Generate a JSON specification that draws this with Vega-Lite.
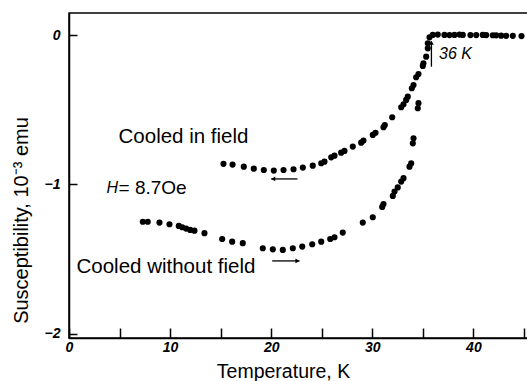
{
  "$schema": "https://vega.github.io/schema/vega-lite/v6.json",
  "autosize": "none",
  "width": 462,
  "height": 325,
  "padding": {"left": 69, "top": 13, "right": 0, "bottom": 43},
  "background": "white",
  "config": {
    "view": {"stroke": "black", "strokeWidth": 1.5},
    "font": "Liberation Sans",
    "axis": {"grid": false, "domainColor": "black", "domainWidth": 1.5, "tickColor": "black", "tickWidth": 1.5, "labelColor": "black", "titleColor": "black", "labelFont": "Liberation Sans", "titleFont": "Liberation Sans", "titleFontWeight": "normal"}
  },
  "layer": [
    {
      "data": {"values": [
        {"T": 15.28, "chi": -0.862, "curve": "field"},
        {"T": 16.18, "chi": -0.867, "curve": "field"},
        {"T": 17.29, "chi": -0.881, "curve": "field"},
        {"T": 18.28, "chi": -0.894, "curve": "field"},
        {"T": 19.27, "chi": -0.903, "curve": "field"},
        {"T": 20.26, "chi": -0.907, "curve": "field"},
        {"T": 21.22, "chi": -0.903, "curve": "field"},
        {"T": 22.21, "chi": -0.898, "curve": "field"},
        {"T": 23.13, "chi": -0.887, "curve": "field"},
        {"T": 24.11, "chi": -0.874, "curve": "field"},
        {"T": 24.95, "chi": -0.858, "curve": "field"},
        {"T": 25.27, "chi": -0.847, "curve": "field"},
        {"T": 25.94, "chi": -0.818, "curve": "field"},
        {"T": 26.26, "chi": -0.807, "curve": "field"},
        {"T": 26.92, "chi": -0.787, "curve": "field"},
        {"T": 27.25, "chi": -0.775, "curve": "field"},
        {"T": 28.07, "chi": -0.746, "curve": "field"},
        {"T": 28.9, "chi": -0.72, "curve": "field"},
        {"T": 29.13, "chi": -0.706, "curve": "field"},
        {"T": 30.05, "chi": -0.668, "curve": "field"},
        {"T": 30.32, "chi": -0.653, "curve": "field"},
        {"T": 31.11, "chi": -0.616, "curve": "field"},
        {"T": 31.24, "chi": -0.601, "curve": "field"},
        {"T": 31.97, "chi": -0.549, "curve": "field"},
        {"T": 32.86, "chi": -0.482, "curve": "field"},
        {"T": 33.09, "chi": -0.462, "curve": "field"},
        {"T": 33.35, "chi": -0.433, "curve": "field"},
        {"T": 33.51, "chi": -0.411, "curve": "field"},
        {"T": 33.91, "chi": -0.355, "curve": "field"},
        {"T": 34.08, "chi": -0.333, "curve": "field"},
        {"T": 34.34, "chi": -0.281, "curve": "field"},
        {"T": 34.57, "chi": -0.259, "curve": "field"},
        {"T": 35.0, "chi": -0.205, "curve": "field"},
        {"T": 35.06, "chi": -0.187, "curve": "field"},
        {"T": 35.33, "chi": -0.143, "curve": "field"},
        {"T": 35.49, "chi": -0.087, "curve": "field"},
        {"T": 35.49, "chi": -0.053, "curve": "field"},
        {"T": 35.66, "chi": -0.013, "curve": "field"},
        {"T": 35.98, "chi": 0.003, "curve": "field"},
        {"T": 36.48, "chi": 0.005, "curve": "field"},
        {"T": 37.14, "chi": 0.003, "curve": "field"},
        {"T": 37.64, "chi": 0.002, "curve": "field"},
        {"T": 38.13, "chi": 0.003, "curve": "field"},
        {"T": 38.63, "chi": 0.005, "curve": "field"},
        {"T": 38.95, "chi": 0.003, "curve": "field"},
        {"T": 39.71, "chi": 0.002, "curve": "field"},
        {"T": 40.28, "chi": 0.002, "curve": "field"},
        {"T": 40.93, "chi": 0.003, "curve": "field"},
        {"T": 41.27, "chi": 0.002, "curve": "field"},
        {"T": 41.92, "chi": 0.001, "curve": "field"},
        {"T": 42.26, "chi": 0.0, "curve": "field"},
        {"T": 42.75, "chi": -0.002, "curve": "field"},
        {"T": 43.24, "chi": -0.003, "curve": "field"},
        {"T": 43.9, "chi": -0.003, "curve": "field"},
        {"T": 44.76, "chi": -0.005, "curve": "field"},
        {"T": 7.3, "chi": -1.25, "curve": "zfc"},
        {"T": 7.79, "chi": -1.25, "curve": "zfc"},
        {"T": 8.95, "chi": -1.256, "curve": "zfc"},
        {"T": 9.94, "chi": -1.267, "curve": "zfc"},
        {"T": 10.86, "chi": -1.278, "curve": "zfc"},
        {"T": 11.2, "chi": -1.287, "curve": "zfc"},
        {"T": 11.59, "chi": -1.296, "curve": "zfc"},
        {"T": 11.99, "chi": -1.305, "curve": "zfc"},
        {"T": 12.41, "chi": -1.31, "curve": "zfc"},
        {"T": 13.4, "chi": -1.327, "curve": "zfc"},
        {"T": 15.15, "chi": -1.366, "curve": "zfc"},
        {"T": 16.14, "chi": -1.384, "curve": "zfc"},
        {"T": 17.19, "chi": -1.394, "curve": "zfc"},
        {"T": 19.17, "chi": -1.428, "curve": "zfc"},
        {"T": 20.16, "chi": -1.435, "curve": "zfc"},
        {"T": 21.15, "chi": -1.439, "curve": "zfc"},
        {"T": 22.14, "chi": -1.428, "curve": "zfc"},
        {"T": 23.07, "chi": -1.417, "curve": "zfc"},
        {"T": 24.06, "chi": -1.401, "curve": "zfc"},
        {"T": 24.95, "chi": -1.384, "curve": "zfc"},
        {"T": 25.84, "chi": -1.366, "curve": "zfc"},
        {"T": 26.26, "chi": -1.354, "curve": "zfc"},
        {"T": 27.08, "chi": -1.323, "curve": "zfc"},
        {"T": 29.06, "chi": -1.256, "curve": "zfc"},
        {"T": 30.05, "chi": -1.22, "curve": "zfc"},
        {"T": 30.98, "chi": -1.151, "curve": "zfc"},
        {"T": 31.11, "chi": -1.131, "curve": "zfc"},
        {"T": 32.03, "chi": -1.077, "curve": "zfc"},
        {"T": 32.2, "chi": -1.048, "curve": "zfc"},
        {"T": 32.52, "chi": -1.02, "curve": "zfc"},
        {"T": 32.86, "chi": -0.981, "curve": "zfc"},
        {"T": 33.09, "chi": -0.958, "curve": "zfc"},
        {"T": 33.68, "chi": -0.881, "curve": "zfc"},
        {"T": 33.85, "chi": -0.858, "curve": "zfc"},
        {"T": 34.01, "chi": -0.724, "curve": "zfc"},
        {"T": 34.08, "chi": -0.69, "curve": "zfc"},
        {"T": 34.5, "chi": -0.489, "curve": "zfc"},
        {"T": 34.57, "chi": -0.455, "curve": "zfc"}
      ]},
      "mark": {"type": "point", "filled": true, "color": "black", "size": 38, "opacity": 1},
      "encoding": {
        "x": {"field": "T", "type": "quantitative", "scale": {"domain": [0, 45.7], "nice": false, "zero": false},
          "axis": {"values": [0, 5, 10, 15, 20, 25, 30, 35, 40, 45], "labelExpr": "datum.value % 10 == 0 ? datum.label : ''", "tickSize": -10, "labelPadding": 12, "labelFontSize": 14, "labelFontStyle": "italic", "labelFontWeight": "bold", "labelFlush": false, "title": "Temperature, K", "titleFontSize": 19.5, "titleX": 214, "titleY": 39, "titleAlign": "center", "titleBaseline": "alphabetic"}},
        "y": {"field": "chi", "type": "quantitative", "scale": {"domain": [-2.03, 0.15], "nice": false, "zero": false},
          "axis": {"values": [0, -1, -2], "format": "d", "tickSize": -8, "labelPadding": 17, "labelFontSize": 14, "labelFontStyle": "italic", "labelFontWeight": "bold", "labelFlush": false, "title": "Susceptibility, 10⁻³ emu", "titleFontSize": 20, "titleX": -42, "titleY": 207, "titleAlign": "center", "titleBaseline": "alphabetic"}}
      }
    },
    {
      "data": {"values": [
        {"label": "Cooled in field", "T": 4.9, "chi": -0.68},
        {"label": "Cooled without field", "T": 0.74, "chi": -1.553}
      ]},
      "mark": {"type": "text", "align": "left", "baseline": "middle", "fontSize": 20.5, "color": "black"},
      "encoding": {"x": {"field": "T", "type": "quantitative"}, "y": {"field": "chi", "type": "quantitative"}, "text": {"field": "label"}}
    },
    {
      "data": {"values": [
        {"label": "= 8.7Oe", "T": 4.9, "chi": -1.023}
      ]},
      "mark": {"type": "text", "align": "left", "baseline": "middle", "fontSize": 19, "color": "black"},
      "encoding": {"x": {"field": "T", "type": "quantitative"}, "y": {"field": "chi", "type": "quantitative"}, "text": {"field": "label"}}
    },
    {
      "data": {"values": [
        {"label": "H", "T": 3.7, "chi": -1.023},
        {"label": "36 K", "T": 36.6, "chi": -0.125}
      ]},
      "mark": {"type": "text", "align": "left", "baseline": "middle", "fontSize": 16, "fontStyle": "italic", "color": "black"},
      "encoding": {"x": {"field": "T", "type": "quantitative"}, "y": {"field": "chi", "type": "quantitative"}, "text": {"field": "label"}}
    },
    {
      "data": {"values": [
        {"x1": 20.0, "x2": 22.6, "y": -0.963},
        {"x1": 20.1, "x2": 22.8, "y": -1.513}
      ]},
      "mark": {"type": "rule", "color": "black", "strokeWidth": 1.3},
      "encoding": {"x": {"field": "x1", "type": "quantitative"}, "x2": {"field": "x2"}, "y": {"field": "y", "type": "quantitative"}}
    },
    {
      "data": {"values": [
        {"x": 35.85, "y1": -0.21, "y2": -0.04}
      ]},
      "mark": {"type": "rule", "color": "black", "strokeWidth": 1.3},
      "encoding": {"x": {"field": "x", "type": "quantitative"}, "y": {"field": "y1", "type": "quantitative"}, "y2": {"field": "y2"}}
    },
    {
      "data": {"values": [{"x": 20.2, "y": -0.963}]},
      "mark": {"type": "point", "shape": "triangle-left", "filled": true, "color": "black", "size": 22, "opacity": 1},
      "encoding": {"x": {"field": "x", "type": "quantitative"}, "y": {"field": "y", "type": "quantitative"}}
    },
    {
      "data": {"values": [{"x": 22.6, "y": -1.513}]},
      "mark": {"type": "point", "shape": "triangle-right", "filled": true, "color": "black", "size": 22, "opacity": 1},
      "encoding": {"x": {"field": "x", "type": "quantitative"}, "y": {"field": "y", "type": "quantitative"}}
    },
    {
      "data": {"values": [{"x": 35.85, "y": -0.05}]},
      "mark": {"type": "point", "shape": "triangle-up", "filled": true, "color": "black", "size": 22, "opacity": 1},
      "encoding": {"x": {"field": "x", "type": "quantitative"}, "y": {"field": "y", "type": "quantitative"}}
    }
  ]
}
